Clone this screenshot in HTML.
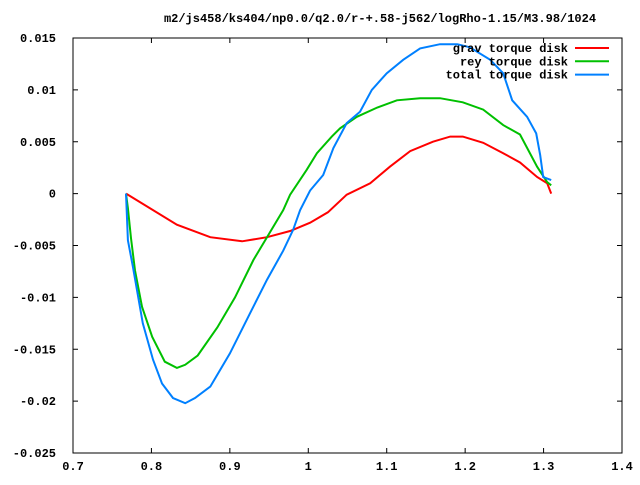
<!DOCTYPE html>
<html><head><meta charset="utf-8"><style>
body{margin:0;background:#fff}
svg text{font-family:"Liberation Mono","DejaVu Sans Mono",monospace;font-weight:bold;font-size:12px;fill:#000}
</style></head><body>
<svg id="chart" width="640" height="480" viewBox="0 0 640 480" xmlns="http://www.w3.org/2000/svg">
<rect width="640" height="480" fill="#fff"/>
<text x="380" y="22" text-anchor="middle">m2/js458/ks404/np0.0/q2.0/r-+.58-j562/logRho-1.15/M3.98/1024</text>
<rect x="73" y="38" width="549" height="415" fill="none" stroke="#000" stroke-width="1"/>
<g id="axes"></g>
<g id="series"></g>
<g id="legend"></g>
</svg>
<script>
const xTicks=[0.7,0.8,0.9,1,1.1,1.2,1.3,1.4];
const xTickLabels=["0.7","0.8","0.9","1","1.1","1.2","1.3","1.4"];
const yTicks=[0.015,0.01,0.005,0,-0.005,-0.01,-0.015,-0.02,-0.025];
const yTickLabels=["0.015","0.01","0.005","0","-0.005","-0.01","-0.015","-0.02","-0.025"];
const seriesNames=["grav torque disk","rey torque disk","total torque disk"];
const seriesColors=["#ff0000","#00c000","#0080ff"];
const gravX=[0.7676,0.8325,0.875,0.9156,0.9474,0.9768,1.0023,1.025,1.049,1.079,1.104,1.13,1.159,1.181,1.197,1.223,1.2485,1.27,1.2918,1.3046,1.3097];
const gravY=[0,-0.003,-0.0042,-0.0046,-0.0042,-0.0036,-0.0028,-0.0018,-0.0001,0.001,0.0026,0.0041,0.005,0.0055,0.0055,0.0049,0.0039,0.003,0.0016,0.001,0];
const reyX=[0.7676,0.770,0.774,0.779,0.788,0.801,0.817,0.8325,0.843,0.859,0.884,0.9066,0.930,0.9474,0.968,0.9768,0.998,1.011,1.030,1.0406,1.062,1.088,1.113,1.1426,1.168,1.197,1.223,1.2485,1.27,1.2918,1.3046,1.3097];
const reyY=[0,-0.0014,-0.0043,-0.0074,-0.0109,-0.0138,-0.0162,-0.0168,-0.0165,-0.0156,-0.0129,-0.010,-0.0064,-0.0042,-0.0016,-0.0001,0.0023,0.0039,0.0055,0.0063,0.0074,0.0083,0.009,0.0092,0.0092,0.0088,0.0081,0.0066,0.0057,0.0026,0.0011,0.0008];
const totX=[0.7676,0.770,0.7765,0.789,0.802,0.8135,0.8275,0.843,0.8556,0.875,0.900,0.926,0.9474,0.968,0.9806,0.9895,1.0023,1.019,1.032,1.049,1.066,1.081,1.100,1.121,1.1426,1.168,1.190,1.206,1.232,1.2485,1.26,1.279,1.2906,1.2957,1.2995,1.3097];
const totY=[0,-0.0045,-0.0071,-0.0125,-0.016,-0.0183,-0.0197,-0.0202,-0.0197,-0.0186,-0.0154,-0.0115,-0.0083,-0.0055,-0.0035,-0.0016,0.0003,0.0018,0.0044,0.0068,0.0079,0.010,0.0116,0.0129,0.014,0.0144,0.0144,0.0141,0.0129,0.0116,0.009,0.0074,0.0058,0.0037,0.0016,0.0013];

const NS="http://www.w3.org/2000/svg";
const L=73,R=622,T=38,B=453;
function sx(v){return L+(v-0.7)/0.7*(R-L);}
function sy(v){return T+(0.015-v)/0.04*(B-T);}
function mk(tag,attrs,parent){const e=document.createElementNS(NS,tag);for(const k in attrs)e.setAttribute(k,attrs[k]);parent.appendChild(e);return e;}
const axes=document.getElementById('axes');
xTicks.forEach((v,i)=>{
  const x=sx(v);
  const t=mk('path',{d:`M${x},${B}v-5M${x},${T}v5`,stroke:'#000'},axes);
  
  
  const lb=mk('text',{x:x,y:470,'text-anchor':'middle'},axes);
  lb.textContent=xTickLabels[i];
  
  
});
yTicks.forEach((v,i)=>{
  const y=sy(v);
  const t=mk('path',{d:`M${L},${y}h5M${R},${y}h-5`,stroke:'#000'},axes);
  
  
  const lb=mk('text',{x:56,y:y+4,'text-anchor':'end'},axes);
  lb.textContent=yTickLabels[i];
  
  
});
const ser=document.getElementById('series');
const allX=[gravX,reyX,totX],allY=[gravY,reyY,totY],names=['grav-torque-line','rey-torque-line','total-torque-line'];
allX.forEach((xs,s)=>{
  const pts=xs.map((v,i)=>sx(v).toFixed(1)+','+sy(allY[s][i]).toFixed(1)).join(' ');
  const p=mk('polyline',{points:pts,fill:'none',stroke:seriesColors[s],'stroke-width':2},ser);
  
  
});
const leg=document.getElementById('legend');
seriesNames.forEach((n,i)=>{
  const y=48+i*13.3;
  const t=mk('text',{x:568,y:y+4,'text-anchor':'end'},leg);
  t.textContent=n;
  
  
  const l=mk('line',{x1:575,x2:609,y1:y,y2:y,stroke:seriesColors[i],'stroke-width':2},leg);
  
  
});
</script>
</body></html>
